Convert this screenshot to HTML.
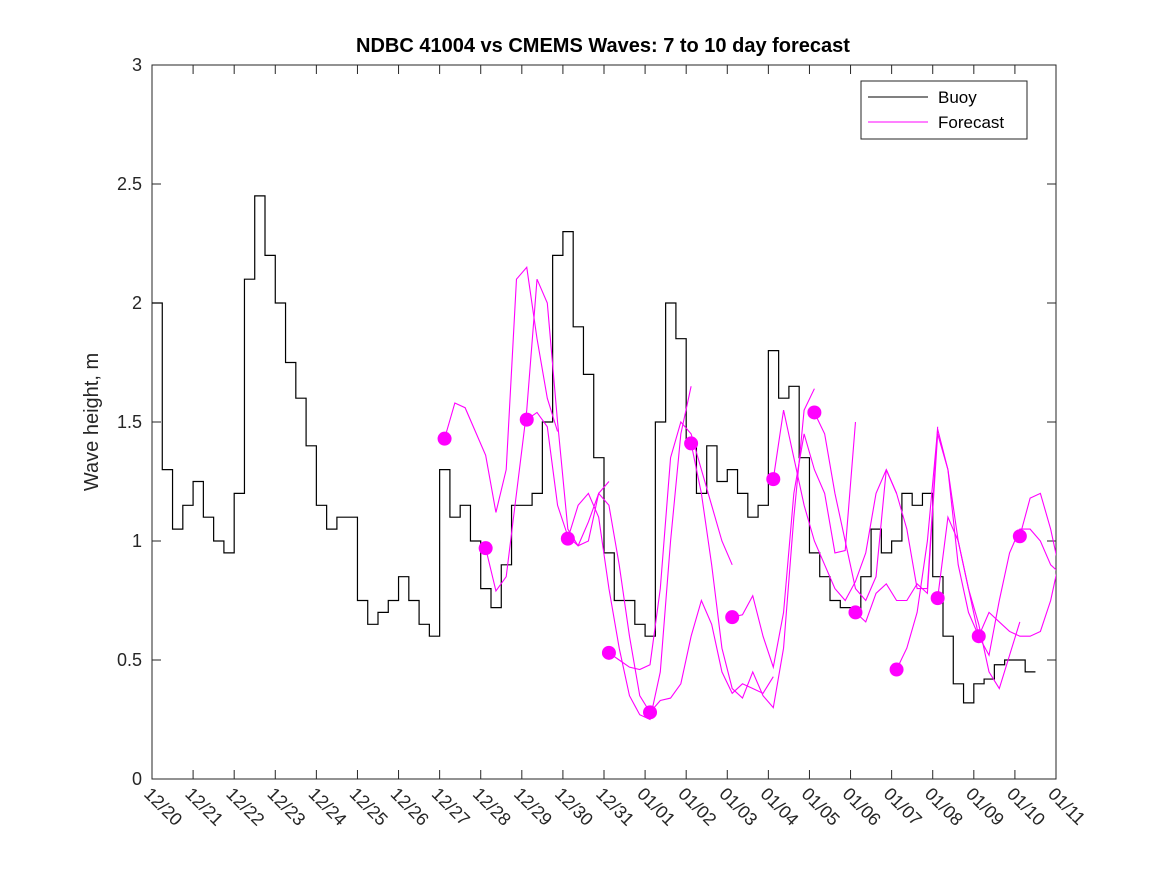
<!DOCTYPE html>
<html><head><meta charset="utf-8"><style>
body{margin:0;background:#fff;}
svg{display:block;font-family:"Liberation Sans",sans-serif;}
</style></head><body>
<svg id="chart" width="1167" height="875">
<rect x="0" y="0" width="1167" height="875" fill="#fff"/>
<text x="603" y="52" text-anchor="middle" font-size="20" font-weight="bold" fill="#000">NDBC 41004 vs CMEMS Waves: 7 to 10 day forecast</text>
<text transform="translate(98,422) rotate(-90)" text-anchor="middle" font-size="20" fill="#262626">Wave height, m</text>
<g id="plot"></g>
</svg>
<script>
const xLabels=["12/20","12/21","12/22","12/23","12/24","12/25","12/26","12/27","12/28","12/29","12/30","12/31","01/01","01/02","01/03","01/04","01/05","01/06","01/07","01/08","01/09","01/10","01/11"];
const yTicks=[0,0.5,1,1.5,2,2.5,3];
const buoy=[2.0,1.3,1.05,1.15, 1.25,1.1,1.0,0.95, 1.2,2.1,2.45,2.2, 2.0,1.75,1.6,1.4, 1.15,1.05,1.1,1.1, 0.75,0.65,0.7,0.75, 0.85,0.75,0.65,0.6, 1.3,1.1,1.15,1.0, 0.8,0.72,0.9,1.15, 1.15,1.2,1.5,2.2, 2.3,1.9,1.7,1.35, 0.95,0.75,0.75,0.65, 0.6,1.5,2.0,1.85, 1.4,1.2,1.4,1.25, 1.3,1.2,1.1,1.15, 1.8,1.6,1.65,1.35, 0.95,0.85,0.75,0.72, 0.7,0.85,1.05,0.95, 1.0,1.2,1.15,1.2, 0.85,0.6,0.4,0.32, 0.4,0.42,0.48,0.5, 0.5,0.45];
const buoyStep=0.25;
const fcStart=[7.12,8.12,9.12,10.12,11.12,12.12,13.12,14.12,15.12,16.12,17.12,18.12,19.12,20.12,21.12];
const fcStep=0.25;
const fc1=[1.43,1.58,1.56,1.46,1.36,1.12,1.3,2.1,2.15,1.85,1.6,1.46];
const fc2=[0.97,0.79,0.85,1.2,1.55,2.1,2.0,1.5,1.05,0.98,1.0,1.2,1.25];
const fc3=[1.51,1.54,1.48,1.15,1.02,0.98,1.08,1.2,1.15,0.9,0.6,0.35,0.28];
const fc4=[1.01,1.15,1.2,1.1,0.8,0.55,0.35,0.27,0.25,0.45,1.0,1.45,1.65];
const fc5=[0.53,0.5,0.47,0.46,0.48,0.8,1.35,1.5,1.45,1.3,1.15,1.0,0.9];
const fc6=[0.28,0.33,0.34,0.4,0.6,0.75,0.65,0.45,0.36,0.4,0.38,0.36,0.43];
const fc7=[1.41,1.2,0.9,0.55,0.38,0.34,0.45,0.35,0.3,0.55,1.1,1.55,1.64];
const fc8=[0.68,0.69,0.77,0.6,0.47,0.7,1.2,1.45,1.3,1.2,0.95,0.96,1.5];
const fc9=[1.26,1.55,1.35,1.15,1.0,0.9,0.8,0.75,0.83,0.95,1.2,1.3,1.2];
const fc10=[1.54,1.45,1.2,1.0,0.8,0.75,0.85,1.3,1.2,1.05,0.8,0.8,1.48];
const fc11=[0.70,0.66,0.78,0.82,0.75,0.75,0.82,0.78,1.45,1.3,0.9,0.7,0.6];
const fc12=[0.46,0.55,0.7,1.0,1.47,1.3,1.0,0.8,0.65,0.45,0.38,0.52,0.66];
const fc13=[0.76,1.1,1.0,0.8,0.6,0.52,0.75,0.95,1.05,1.05,1.0,0.9,0.86];
const fc14=[0.60,0.7,0.66,0.62,0.6,0.6,0.62,0.75,0.95];
const fc15=[1.02,1.18,1.2,1.05,0.85,0.7];
const forecasts=[fc1,fc2,fc3,fc4,fc5,fc6,fc7,fc8,fc9,fc10,fc11,fc12,fc13,fc14,fc15];

const X0=152,X1=1056,Y0=779,Y1=65,NS="http://www.w3.org/2000/svg";
const xs=d=>X0+d*(X1-X0)/22;
const ys=v=>Y0-v*(Y0-Y1)/3;
const plot=document.getElementById('plot');
function mk(t,a,p){const e=document.createElementNS(NS,t);for(const k in a)e.setAttribute(k,a[k]);(p||plot).appendChild(e);return e;}

const defs=mk('defs',{});const cp=mk('clipPath',{id:'clip'},defs);mk('rect',{x:X0,y:Y1,width:X1-X0,height:Y0-Y1},cp);

const box=mk('rect',{x:X0,y:Y1,width:X1-X0,height:Y0-Y1,fill:'none',stroke:'#262626','stroke-width':1});



xLabels.forEach((l,i)=>{
  const x=xs(i);
  mk('line',{x1:x,y1:Y0,x2:x,y2:Y0-9,stroke:'#262626'});
  mk('line',{x1:x,y1:Y1,x2:x,y2:Y1+9,stroke:'#262626'});
  const t=mk('text',{transform:`translate(${x-9},${Y0+16}) rotate(45)`,'font-size':18,fill:'#262626'});
  t.textContent=l;
  
  
});
yTicks.forEach(v=>{
  const y=ys(v);
  mk('line',{x1:X0,y1:y,x2:X0+9,y2:y,stroke:'#262626'});
  mk('line',{x1:X1,y1:y,x2:X1-9,y2:y,stroke:'#262626'});
  const t=mk('text',{x:X0-10,y:y+6,'text-anchor':'end','font-size':18,fill:'#262626'});
  t.textContent=String(v);
  
  
});

let d='';
buoy.forEach((v,i)=>{const x=xs(i*buoyStep),y=ys(v);d+=(i?`H${x}V${y}`:`M${x},${y}`);});
d+=`H${xs(buoy.length*buoyStep)}`;
const bl=mk('path',{d:d,fill:'none',stroke:'#000','stroke-width':1.2,'clip-path':'url(#clip)'});



forecasts.forEach((arr,k)=>{
  const pts=arr.map((v,i)=>`${xs(fcStart[k]+i*fcStep)},${ys(v)}`).join(' ');
  const pl=mk('polyline',{points:pts,fill:'none',stroke:'#ff00ff','stroke-width':1.1,'clip-path':'url(#clip)'});
  
  
  const c=mk('circle',{cx:xs(fcStart[k]),cy:ys(arr[0]),r:7,fill:'#ff00ff'});
  
  
});

const lg=mk('g',{});


mk('rect',{x:861,y:81,width:166,height:58,fill:'#fff',stroke:'#262626'},lg);
mk('line',{x1:868,y1:97,x2:928,y2:97,stroke:'#000'},lg);
mk('line',{x1:868,y1:122,x2:928,y2:122,stroke:'#ff00ff'},lg);
const t1=mk('text',{x:938,y:103,'font-size':17,fill:'#000'},lg);t1.textContent='Buoy';


const t2=mk('text',{x:938,y:128,'font-size':17,fill:'#000'},lg);t2.textContent='Forecast';


</script>
</body></html>
